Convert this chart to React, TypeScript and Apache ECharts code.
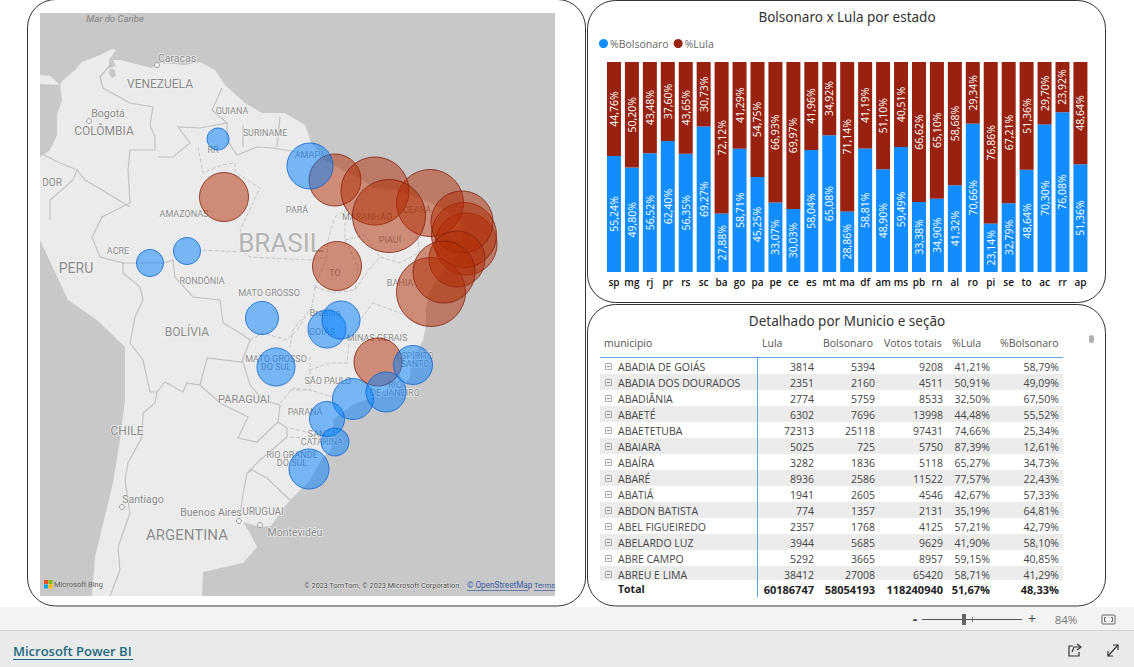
import React, { useEffect, useRef } from "react";
import * as echarts from "echarts";

const states = ["sp","mg","rj","pr","rs","sc","ba","go","pa","pe","ce","es","mt","ma","df","am","ms","pb","rn","al","ro","pi","se","to","ac","rr","ap"];
const pctBolsonaro = [55.24,49.80,56.52,62.40,56.35,69.27,27.88,58.71,45.25,33.07,30.03,58.04,65.08,28.86,58.81,48.90,59.49,33.38,34.90,41.32,70.66,23.14,32.79,48.64,70.30,76.08,51.36];
const pctLula = [44.76,50.20,43.48,37.60,43.65,30.73,72.12,41.29,54.75,66.93,69.97,41.96,34.92,71.14,41.19,51.10,40.51,66.62,65.10,58.68,29.34,76.86,67.21,51.36,29.70,23.92,48.64];

// bubble positions on the map's own scale (one state per entry, same order as states)
const mapX = [313,338,346,287,269,295,391,287,295,426,390,373,222,335,301,184,236,424,422,417,147,349,404,297,110,178,270];
const mapY = [386,349,379,406,456,429,279,316,167,231,190,352,305,178,307,184,354,222,209,246,238,203,259,253,250,126,153];
const mapSize = [41,48,40,35,40,28,69,38,52,62,67,39,33,68,38,49,38,65,62,56,27,73,62,49,27,22,46];

const tableCities = ["ABADIA DE GOIÁS","ABADIA DOS DOURADOS","ABADIÂNIA","ABAETÉ","ABAETETUBA","ABAIARA","ABAÍRA","ABARÉ","ABATIÁ","ABDON BATISTA","ABEL FIGUEIREDO","ABELARDO LUZ","ABRE CAMPO","ABREU E LIMA"];
const tableLula = ["3814","2351","2774","6302","72313","5025","3282","8936","1941","774","2357","3944","5292","38412"];
const tableBolsonaro = ["5394","2160","5759","7696","25118","725","1836","2586","2605","1357","1768","5685","3665","27008"];
const tableTotal = ["9208","4511","8533","13998","97431","5750","5118","11522","4546","2131","4125","9629","8957","65420"];
const tablePctLula = ["41,21%","50,91%","32,50%","44,48%","74,66%","87,39%","65,27%","77,57%","42,67%","35,19%","57,21%","41,90%","59,15%","58,71%"];
const tablePctBolsonaro = ["58,79%","49,09%","67,50%","55,52%","25,34%","12,61%","34,73%","22,43%","57,33%","64,81%","42,79%","58,10%","40,85%","41,29%"];
const tableFooter = ["60186747","58054193","118240940","51,67%","48,33%"];

const land = [[40,75],[50,76],[60,85],[63,80],[75,70],[82,62],[100,55],[112,49],[116,50],[109,60],[109,68],[116,66],[113,60],[120,60],[140,65],[152,68],[160,63],[185,65],[200,62],[215,70],[225,85],[245,103],[262,113],[285,113],[305,125],[308,133],[311,143],[318,150],[322,158],[330,163],[342,170],[360,178],[373,188],[395,190],[429,202],[453,215],[458,217],[460,222],[464,235],[463,243],[455,259],[443,271],[429,292],[426,308],[426,325],[423,340],[418,350],[411,364],[410,378],[395,392],[384,391],[372,398],[354,404],[343,412],[333,420],[333,442],[330,451],[322,458],[318,466],[310,480],[300,490],[286,505],[271,526],[260,527],[243,522],[250,533],[257,547],[243,563],[203,572],[202,596],[92,596],[95,557],[113,483],[120,440],[125,400],[125,347],[97,320],[68,300],[40,240],[40,157],[50,150],[57,135],[57,115],[62,100],[60,85],[40,84]];
const countryBorders = [
  [[112,63],[100,77],[103,88],[130,103],[153,107],[150,125],[155,137],[155,150],[130,150],[128,170],[130,203],[120,208],[102,217],[92,237],[100,257],[123,263],[123,273],[140,287],[143,300],[135,317],[130,343]],
  [[158,157],[173,157],[190,143],[178,127],[200,128],[227,123],[227,140],[237,155],[257,147],[273,148],[310,154]],
  [[227,123],[212,110],[222,88]],
  [[243,125],[243,147]],[[280,117],[277,147]],
  [[40,153],[60,163],[77,170],[85,180],[97,187],[130,207]],
  [[50,220],[50,200],[73,180],[77,170]],
  [[130,343],[143,360],[150,392],[157,392],[155,403],[143,413],[142,437],[128,463],[125,480],[130,513],[118,547],[120,570],[110,596]],
  [[123,263],[137,263],[163,263],[173,260],[175,277],[193,297],[220,300],[223,323],[240,333],[250,340],[242,362],[207,358],[200,385],[187,383],[183,392],[165,382],[157,392]],
  [[200,385],[220,403],[248,417],[238,438],[257,442],[278,422],[280,405],[263,400],[250,385],[243,362]],
  [[278,422],[287,428],[287,437],[260,460],[247,473],[242,500],[240,517]],
  [[247,473],[252,470],[267,478],[290,500],[297,497]],
];
const stateBorders = [
  [[198,147],[203,173],[222,165],[235,163],[235,172],[260,188],[240,230],[243,252],[200,250]],
  [[243,252],[250,257],[310,260],[327,257],[328,240],[335,217],[345,210]],
  [[315,287],[333,293],[355,290],[358,267],[350,250],[345,240],[345,210]],
  [[355,290],[367,272],[380,257],[400,263],[420,252]],
  [[315,287],[312,307],[293,330],[290,347]],
  [[350,333],[373,303],[400,313],[418,323]],
  [[310,357],[310,370],[330,363],[347,363],[350,333]],
  [[290,390],[310,390],[333,397]],
  [[290,428],[310,433]],[[290,437],[323,440]],
  [[250,340],[263,333],[287,340],[297,330],[308,313]],
  [[280,403],[293,388],[310,390]],
  [[327,257],[315,287]],[[310,370],[310,390]],
  [[345,240],[365,235],[380,257]],[[415,225],[420,252]],
];
// text, x, y, size (map labels)
const mapLabels: [string, number, number, number][] = [
  ["Caracas",177,58,10.5],["VENEZUELA",160,84,12],["Bogotá",108,113,10.5],["COLÔMBIA",104,131,12],
  ["GUIANA",232,111,9],["SURINAME",265,133,9],["DOR",52,182,10],["AMAZONAS",184,214,9],["PARÁ",297,210,9],
  ["ACRE",118,251,9],["PERU",76,268,14],["RONDÔNIA",202,281,9],["MATO GROSSO",269,293,9],
  ["BOLÍVIA",187,332,12],["RR",213,150,9],["AMAPÁ",310,155,9],["MARANHÃO",367,217,9],["PIAUÍ",390,240,9],
  ["CEARÁ",417,210,9],["TO",335,273,9],["BAHIA",400,283,9],["GOIÁS",322,332,9],["Brasília",325,312,9.5],
  ["MINAS GERAIS",377,338,9],["ESPÍRITO\nSANTO",415,360,9],["RIO\nDE JANEIRO",395,388.5,9],
  ["SÃO PAULO",328,381,9],["PARANÁ",305,412,9],["SANTA\nCATARINA",322,437.5,9],["RIO GRANDE\nDO SUL",292,458.5,9],
  ["MATO GROSSO\nDO SUL",276,363,9],["PARAGUAI",244,399,11],["CHILE",127,431,12],
  ["Santiago",143,499,10.5],["Buenos Aires",211,512,10.5],["URUGUAI",263,511,10],["ARGENTINA",187,535,15],["Montevidéu",295,532,10.5],
];
const mapCities = [[157,65],[89,121],[122,507],[239,521],[260,525]];

function t(text: string, x: number, y: number, o: any = {}) {
  const { align = "left", size = 11, color = "#444", weight = "normal", family = "'Open Sans'", ...rest } = o;
  return { type: "text", x, y, silent: true, style: { text, fill: color, align, textAlign: align, verticalAlign: "middle", textVerticalAlign: "middle", fontSize: size, fontWeight: weight, fontFamily: family, ...rest } };
}
const poly = (points: number[][], stroke: string, lineWidth: number, lineDash?: number[]) => ({
  type: "polyline", silent: true, shape: { points }, style: { stroke, lineWidth, fill: "none", lineDash },
});
const panel = (x: number, y: number, width: number, height: number) => ({
  type: "rect", silent: true, shape: { x, y, width, height, r: 28 }, style: { fill: "#fff", stroke: "#333", lineWidth: 1 },
});
const mapLabel = (text: string, x: number, y: number, size: number, color = "#8a8a8a") =>
  t(text, x, y, { align: "center", size, color, family: "Roboto", stroke: "rgba(245,245,245,.8)", lineWidth: 1.5, lineHeight: 8 });

function buildGraphics() {
  const g: any[] = [];
  g.push({ type: "rect", silent: true, shape: { x: 0, y: 607, width: 1134, height: 24 }, style: { fill: "#f3f3f3" } });
  g.push({ type: "rect", silent: true, shape: { x: 0, y: 631, width: 1134, height: 36 }, style: { fill: "#eaeaea" } });
  g.push({ type: "line", silent: true, shape: { x1: 0, y1: 630.5, x2: 1134, y2: 630.5 }, style: { stroke: "#d4d4d4", lineWidth: 1 } });
  g.push(panel(27.5, -0.5, 558, 606.5), panel(587.5, 0.5, 518, 302), panel(587.5, 304.5, 518, 301.5));
  // map
  g.push({ type: "rect", silent: true, shape: { x: 40, y: 13, width: 515, height: 583 }, style: { fill: "#c8c8c8" } });
  g.push({ type: "polygon", silent: true, shape: { points: land }, style: { fill: "#ebebeb" } });
  g.push({ type: "polygon", silent: true, shape: { points: [[110,68],[115,70],[116,76],[112,78],[109,74]] }, style: { fill: "#c8c8c8" } });
  stateBorders.forEach((p) => g.push(poly(p, "#c6c6c6", 1, [4, 2])));
  countryBorders.forEach((p) => g.push(poly(p, "#c2c2c2", 1.2)));
  mapCities.forEach(([x, y]) => g.push({ type: "circle", silent: true, shape: { cx: x, cy: y, r: 2.5 }, style: { fill: "#f3f3f3", stroke: "#8a8a8a", lineWidth: 0.8 } }));
  g.push(t("Mar do Caribe", 115, 18, { align: "center", size: 9.5, color: "#858585", family: "Roboto", fontStyle: "italic" }));
  g.push(mapLabel("BRASIL", 281, 243, 26, "#b4b4b4"));
  mapLabels.forEach(([s, x, y, z]) => g.push(mapLabel(s, x, y, z)));
  [["#f25022", 44, 580], ["#7fba00", 48.5, 580], ["#00a4ef", 44, 584.5], ["#ffb900", 48.5, 584.5]].forEach(([c, x, y]: any) =>
    g.push({ type: "rect", silent: true, shape: { x, y, width: 4, height: 4 }, style: { fill: c } }));
  g.push(t("Microsoft Bing", 54, 584, { size: 7.5, color: "#666", family: "Roboto" }));
  g.push(t("© 2023 TomTom, © 2023 Microsoft Corporation,", 304, 585, { size: 7.3, color: "#444", family: "Roboto", stroke: "rgba(255,255,255,.6)", lineWidth: 1 }));
  g.push(t("© OpenStreetMap", 467, 585, { size: 8.2, color: "#3c5aa6", family: "Roboto" }));
  g.push(t("Terms", 534, 585, { size: 7.5, color: "#3c5aa6", family: "Roboto" }));
  g.push({ type: "line", silent: true, shape: { x1: 467, y1: 590.5, x2: 528, y2: 590.5 }, style: { stroke: "#3c5aa6", lineWidth: 0.7 } });
  g.push({ type: "line", silent: true, shape: { x1: 534, y1: 590.5, x2: 555, y2: 590.5 }, style: { stroke: "#3c5aa6", lineWidth: 0.7 } });
  // table
  const heads: [string, number][] = [["municipio", 604], ["Lula", 762], ["Bolsonaro", 823], ["Votos totais", 884], ["%Lula", 952], ["%Bolsonaro", 1000]];
  heads.forEach(([s, x]) => g.push(t(s, x, 343, { size: 10.5, color: "#555" })));
  tableCities.forEach((city, i) => {
    const y = 367 + i * 16;
    if (i % 2 === 1) g.push({ type: "rect", silent: true, shape: { x: 600, y: y - 9, width: 463, height: i === 13 ? 14 : 16 }, style: { fill: "#ececec" } });
    g.push({ type: "rect", silent: true, shape: { x: 605.5, y: y - 3.5, width: 6, height: 6 }, style: { fill: "none", stroke: "#aaa", lineWidth: 1 } });
    g.push({ type: "line", silent: true, shape: { x1: 607, y1: y - 0.5, x2: 610, y2: y - 0.5 }, style: { stroke: "#888", lineWidth: 1 } });
    g.push(t(city, 618, y, { size: 10.5 }));
    ([[tableLula, 814], [tableBolsonaro, 875], [tableTotal, 943], [tablePctLula, 990], [tablePctBolsonaro, 1059]] as [string[], number][]).forEach(([col, x]) =>
      g.push(t(col[i], x, y, { size: 10.5, align: "right" })));
  });
  g.push(t("Total", 618, 589, { size: 10.5, weight: "bold", color: "#222" }));
  [814, 875, 943, 990, 1059].forEach((x, i) => g.push(t(tableFooter[i], x, 589, { size: 11, weight: "bold", align: "right", color: "#222" })));
  g.push({ type: "line", silent: true, shape: { x1: 600, y1: 357.5, x2: 1063, y2: 357.5 }, style: { stroke: "#5aa7f0", lineWidth: 1 } });
  g.push({ type: "line", silent: true, shape: { x1: 757.5, y1: 357, x2: 757.5, y2: 597 }, style: { stroke: "#5aa7f0", lineWidth: 1 } });
  g.push({ type: "rect", silent: true, shape: { x: 1089, y: 335, width: 5, height: 8, r: 2.5 }, style: { fill: "#b0b0b0" } });
  // status bar
  g.push(t("-", 915, 618, { size: 14, color: "#444", align: "center", weight: "bold" }));
  g.push({ type: "line", silent: true, shape: { x1: 922, y1: 619.5, x2: 1022, y2: 619.5 }, style: { stroke: "#555", lineWidth: 1 } });
  g.push({ type: "rect", silent: true, shape: { x: 962, y: 614, width: 4, height: 11 }, style: { fill: "#666" } });
  g.push({ type: "line", silent: true, shape: { x1: 972.5, y1: 617, x2: 972.5, y2: 622 }, style: { stroke: "#777", lineWidth: 1 } });
  g.push(t("+", 1032, 618, { size: 14, color: "#444", align: "center" }));
  g.push(t("84%", 1066, 619, { size: 11.5, color: "#777", align: "center" }));
  g.push({ type: "rect", silent: true, shape: { x: 1102, y: 615, width: 13, height: 9, r: 1 }, style: { fill: "none", stroke: "#666", lineWidth: 1 } });
  g.push(poly([[1106, 617.5], [1104.5, 617.5], [1104.5, 621.5], [1106, 621.5]], "#666", 1));
  g.push(poly([[1111, 617.5], [1112.5, 617.5], [1112.5, 621.5], [1111, 621.5]], "#666", 1));
  g.push(t("Microsoft Power BI", 13, 651, { size: 13, weight: 600, color: "#1b6a80", family: "'Open Sans'" }));
  g.push({ type: "line", silent: true, shape: { x1: 13, y1: 659.5, x2: 133, y2: 659.5 }, style: { stroke: "#1b6a80", lineWidth: 1 } });
  g.push(poly([[1073, 646], [1069, 646], [1069, 656], [1079, 656], [1079, 652]], "#333", 1.2));
  g.push(poly([[1072, 652], [1074, 647], [1080, 647]], "#333", 1.2));
  g.push(poly([[1077, 644], [1081, 647], [1077, 650]], "#333", 1.2));
  g.push(poly([[1108, 656], [1118, 645]], "#333", 1.2));
  g.push(poly([[1113, 645], [1118, 645], [1118, 650]], "#333", 1.2));
  g.push(poly([[1108, 651], [1108, 656], [1113, 656]], "#333", 1.2));
  return g;
}

const pctLabel = (p: any) => p.value.toFixed(2).replace(".", ",") + "%";

export default function App() {
  const ref = useRef<HTMLDivElement>(null);
  useEffect(() => {
    const chart = echarts.init(ref.current!, null, { renderer: "svg" });
    const barLabel = { show: true, position: "inside", rotate: 90, color: "#fff", fontSize: 10.5, fontFamily: "'Open Sans'", formatter: pctLabel };
    const titleStyle = { fontSize: 13.5, fontWeight: "normal", color: "#333", fontFamily: "'Noto Sans'" };
    chart.setOption({
      animation: false,
      backgroundColor: "#fff",
      title: [
        { text: "Bolsonaro x Lula por estado", left: 842, top: 5, textAlign: "center", textStyle: titleStyle },
        { text: "Detalhado por Municio e seção", left: 842, top: 309, textAlign: "center", textStyle: titleStyle },
      ],
      legend: {
        data: ["%Bolsonaro", "%Lula"], left: 594, top: 33, icon: "circle", itemWidth: 9, itemHeight: 9, itemGap: 5,
        textStyle: { color: "#666", fontSize: 10.5, fontFamily: "'Open Sans'", padding: [0, 0, 0, -3] },
      },
      grid: [
        { left: 605, top: 62, width: 484.4, height: 210 },
        { left: 40, top: 13, width: 515, height: 583 },
      ],
      xAxis: [
        { type: "category", gridIndex: 0, data: states, axisLine: { show: false }, axisTick: { show: false }, axisLabel: { color: "#111", fontSize: 10, fontFamily: "'Open Sans'", fontWeight: 600, margin: 5, interval: 0 } },
        { type: "value", gridIndex: 1, min: 0, max: 515, show: false },
      ],
      yAxis: [
        { type: "value", gridIndex: 0, min: 0, max: 100, show: false },
        { type: "value", gridIndex: 1, min: 0, max: 583, inverse: true, show: false },
      ],
      graphic: { elements: buildGraphics() },
      series: [
        { name: "%Bolsonaro", type: "bar", stack: "t", xAxisIndex: 0, yAxisIndex: 0, barWidth: 14, data: pctBolsonaro, itemStyle: { color: "#118DFF" }, label: barLabel, z: 3 },
        { name: "%Lula", type: "bar", stack: "t", xAxisIndex: 0, yAxisIndex: 0, barWidth: 14, data: pctLula, itemStyle: { color: "#98210F" }, label: barLabel, z: 3 },
        {
          name: "Estados", type: "scatter", xAxisIndex: 1, yAxisIndex: 1, z: 3,
          symbolSize: (v: number[]) => v[2],
          data: states.map((s, i) => {
            const lulaWins = pctLula[i] > pctBolsonaro[i];
            return {
              name: s,
              value: [mapX[i], mapY[i], mapSize[i]],
              itemStyle: lulaWins
                ? { color: "rgba(177,43,2,.62)", borderColor: "#82200f", borderWidth: 1 }
                : { color: "rgba(0,127,252,.62)", borderColor: "#0f64d2", borderWidth: 1 },
            };
          }),
        },
      ],
    });
    return () => chart.dispose();
  }, []);
  return <div ref={ref} style={{ position: "absolute", left: 0, top: 0, width: 1134, height: 667 }} />;
}
